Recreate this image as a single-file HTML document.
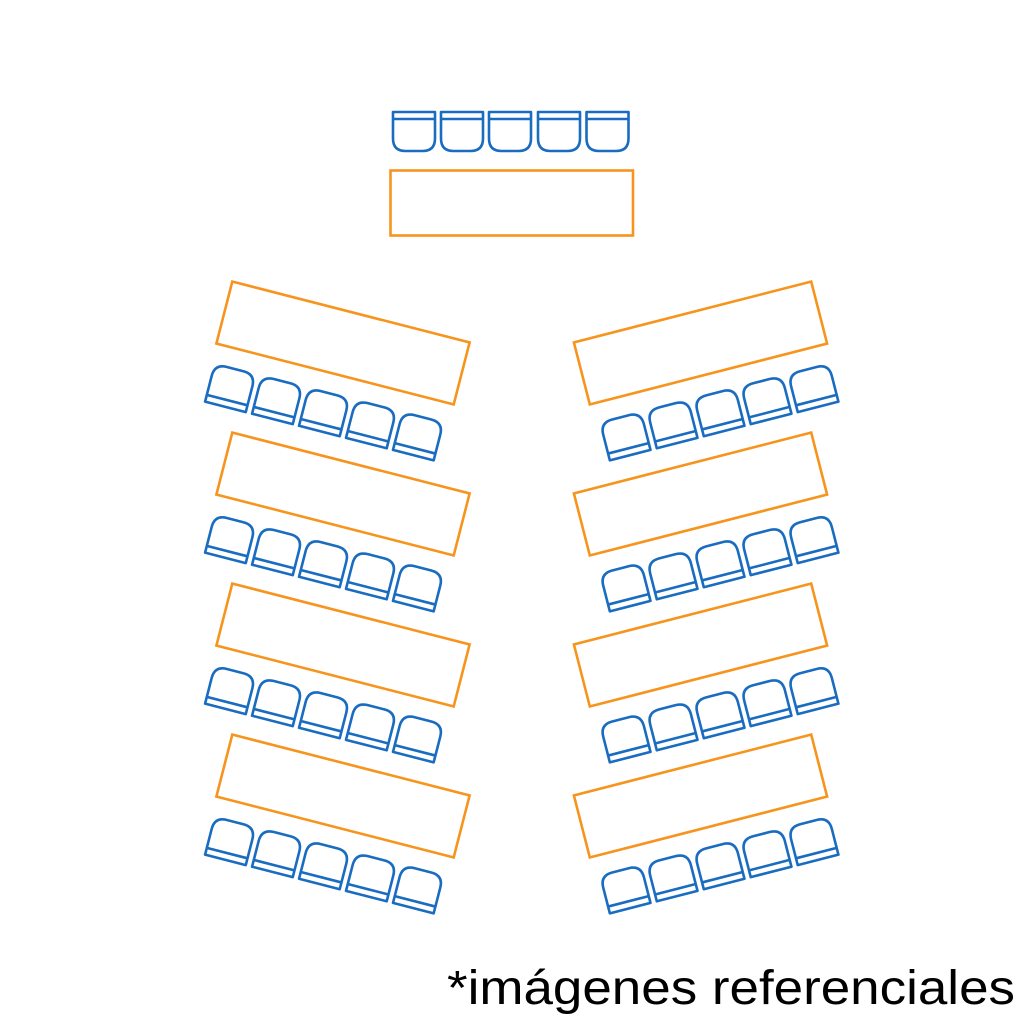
<!DOCTYPE html>
<html><head><meta charset="utf-8"><style>
html,body{margin:0;padding:0;background:#fff;width:1024px;height:1024px;overflow:hidden}
svg{display:block}
</style></head><body>
<svg width="1024" height="1024" viewBox="0 0 1024 1024" xmlns="http://www.w3.org/2000/svg">
<defs>
<g id="ch" fill="none" stroke="#1a6cc0" stroke-width="2.6" stroke-linejoin="round">
<path d="M-21,19.5 L-21,-7 Q-21,-19.5 -8.5,-19.5 L8.5,-19.5 Q21,-19.5 21,-7 L21,19.5 Z"/>
<line x1="-21" y1="12.5" x2="21" y2="12.5"/>
</g>
<g id="unit">
<rect x="-122.5" y="-32" width="245" height="64" fill="none" stroke="#f7941d" stroke-width="2.6"/>
<use href="#ch" x="-98" y="71.6"/>
<use href="#ch" x="-49.5" y="71.6"/>
<use href="#ch" x="-1" y="71.6"/>
<use href="#ch" x="47.5" y="71.6"/>
<use href="#ch" x="96" y="71.6"/>
</g>
</defs>
<use href="#ch" transform="translate(414,131.5) rotate(180)"/>
<use href="#ch" transform="translate(462,131.5) rotate(180)"/>
<use href="#ch" transform="translate(510,131.5) rotate(180)"/>
<use href="#ch" transform="translate(559,131.5) rotate(180)"/>
<use href="#ch" transform="translate(607.5,131.5) rotate(180)"/>
<rect x="390.5" y="170.5" width="242.5" height="65" fill="none" stroke="#f7941d" stroke-width="2.6"/>
<use href="#unit" transform="translate(343,343) rotate(14.4)"/>
<use href="#unit" transform="translate(343,494) rotate(14.4)"/>
<use href="#unit" transform="translate(343,645) rotate(14.4)"/>
<use href="#unit" transform="translate(343,796) rotate(14.4)"/>
<use href="#unit" transform="translate(700.5,343) scale(-1,1) rotate(14.4)"/>
<use href="#unit" transform="translate(700.5,494) scale(-1,1) rotate(14.4)"/>
<use href="#unit" transform="translate(700.5,645) scale(-1,1) rotate(14.4)"/>
<use href="#unit" transform="translate(700.5,796) scale(-1,1) rotate(14.4)"/>
<text x="447" y="1004" font-family="Liberation Sans, sans-serif" font-size="48" fill="#000" textLength="568" lengthAdjust="spacingAndGlyphs">*imágenes referenciales</text>
</svg>
</body></html>
